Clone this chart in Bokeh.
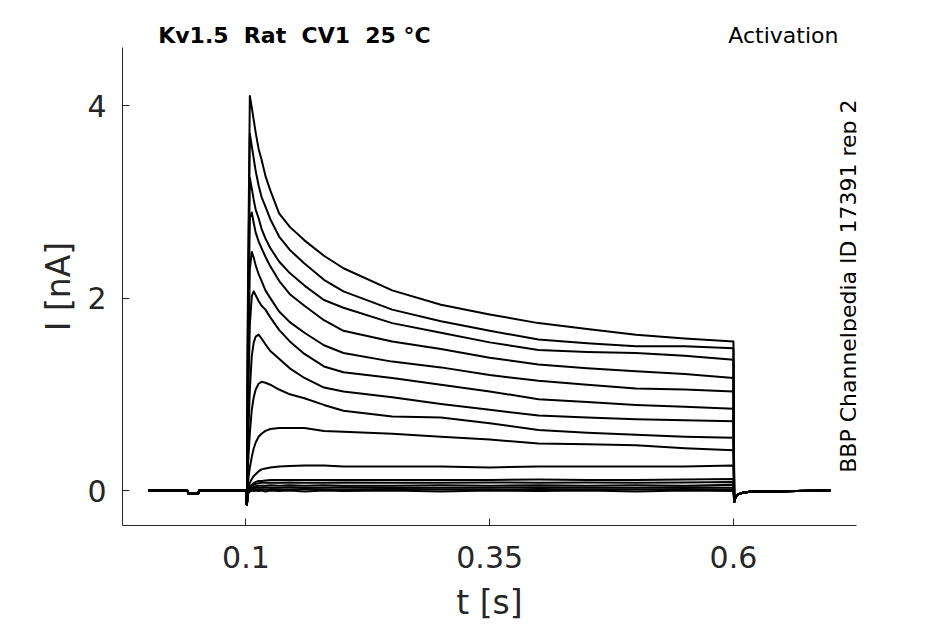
import math
from bokeh.plotting import figure
from bokeh.layouts import column
from bokeh.models import Range1d, FixedTicker, Label, ColumnDataSource
from bokeh.embed import file_html
from bokeh.resources import INLINE

# ---------------- data ----------------
NB2 = "\u00a0\u00a0"
title_text = "Kv1.5" + NB2 + "Rat" + NB2 + "CV1" + NB2 + "25\u00a0\u00b0C"
protocol_text = "Activation"
source_text = "BBP Channelpedia ID 17391 rep 2"

x_ticks = [0.1, 0.35, 0.6]
x_tick_labels = ["0.1", "0.35", "0.6"]
y_ticks = [0, 2, 4]
y_tick_labels = ["0", "2", "4"]

# holding segment before the pulse (s, nA)
pre_t = [0.0, 0.040, 0.041, 0.051, 0.052, 0.0995]
pre_i = [0.0, 0.0, -0.03, -0.03, 0.0, 0.0]

# sample times during the pulse (s)
pulse_t = [0.1, 0.101, 0.102, 0.104, 0.106, 0.108, 0.110, 0.113, 0.116, 0.120,
           0.125, 0.134, 0.145, 0.16, 0.18, 0.2, 0.25, 0.3, 0.35, 0.4, 0.45,
           0.5, 0.55, 0.6]

# current of each sweep at pulse_t (nA)
sweep_01 = [0, -0.15, 2.0, 4.10, 3.98, 3.85, 3.72, 3.55, 3.44, 3.27, 3.12, 2.88, 2.74, 2.60, 2.44, 2.31, 2.08, 1.93, 1.83, 1.74, 1.68, 1.62, 1.58, 1.55]
sweep_02 = [0, -0.15, 1.8, 3.71, 3.58, 3.45, 3.32, 3.17, 3.05, 2.95, 2.82, 2.64, 2.50, 2.36, 2.19, 2.07, 1.88, 1.76, 1.66, 1.57, 1.53, 1.50, 1.50, 1.48]
sweep_03 = [0, -0.15, 1.6, 3.25, 3.14, 3.02, 2.92, 2.83, 2.72, 2.62, 2.52, 2.38, 2.26, 2.13, 1.98, 1.90, 1.74, 1.64, 1.54, 1.46, 1.44, 1.43, 1.40, 1.36]
sweep_04 = [0, -0.15, 1.4, 2.84, 2.89, 2.78, 2.68, 2.59, 2.52, 2.43, 2.33, 2.18, 2.04, 1.92, 1.77, 1.66, 1.55, 1.47, 1.38, 1.31, 1.27, 1.24, 1.21, 1.17]
sweep_05 = [0, -0.15, 1.1, 2.30, 2.48, 2.42, 2.34, 2.25, 2.18, 2.08, 2.00, 1.86, 1.75, 1.64, 1.51, 1.43, 1.34, 1.28, 1.20, 1.14, 1.10, 1.06, 1.05, 1.03]
sweep_06 = [0, -0.15, 0.8, 1.72, 2.02, 2.07, 2.03, 1.97, 1.92, 1.88, 1.80, 1.67, 1.55, 1.42, 1.29, 1.23, 1.17, 1.10, 1.03, 0.95, 0.92, 0.89, 0.87, 0.85]
sweep_07 = [0, -0.15, 0.45, 1.05, 1.40, 1.54, 1.60, 1.62, 1.58, 1.52, 1.45, 1.37, 1.27, 1.17, 1.07, 1.03, 0.97, 0.90, 0.84, 0.78, 0.76, 0.74, 0.73, 0.72]
sweep_08 = [0, -0.15, 0.25, 0.60, 0.84, 0.97, 1.05, 1.11, 1.13, 1.12, 1.10, 1.05, 1.00, 0.96, 0.89, 0.83, 0.77, 0.76, 0.70, 0.63, 0.60, 0.58, 0.56, 0.55]
sweep_09 = [0, -0.15, 0.08, 0.24, 0.35, 0.44, 0.50, 0.56, 0.59, 0.62, 0.64, 0.65, 0.65, 0.65, 0.62, 0.61, 0.59, 0.56, 0.53, 0.49, 0.48, 0.47, 0.44, 0.42]
sweep_10 = [0, -0.15, 0.02, 0.08, 0.12, 0.15, 0.17, 0.20, 0.22, 0.23, 0.24, 0.25, 0.255, 0.26, 0.26, 0.25, 0.25, 0.25, 0.24, 0.25, 0.25, 0.25, 0.25, 0.26]
sweep_11 = [0, -0.15, 0.0, 0.04, 0.06, 0.08, 0.09, 0.10, 0.10, 0.105, 0.11, 0.11, 0.11, 0.11, 0.11, 0.11, 0.11, 0.11, 0.11, 0.115, 0.11, 0.11, 0.115, 0.12]
sweep_12 = [0, -0.15, -0.01, 0.03, 0.05, 0.06, 0.07, 0.075, 0.08, 0.08, 0.08, 0.08, 0.085, 0.08, 0.08, 0.085, 0.08, 0.08, 0.085, 0.08, 0.085, 0.08, 0.085, 0.09]
sweep_13 = [0, -0.15, -0.02, 0.02, 0.03, 0.04, 0.045, 0.05, 0.05, 0.05, 0.055, 0.05, 0.055, 0.05, 0.055, 0.05, 0.05, 0.055, 0.05, 0.055, 0.05, 0.055, 0.05, 0.06]
sweep_14 = [0, -0.15, -0.02, 0.01, 0.02, 0.025, 0.03, 0.03, 0.03, 0.035, 0.03, 0.03, 0.035, 0.03, 0.03, 0.035, 0.03, 0.03, 0.03, 0.035, 0.03, 0.03, 0.035, 0.03]
sweep_15 = [0, -0.15, -0.03, 0.0, 0.01, 0.01, 0.015, 0.01, 0.015, 0.01, 0.015, 0.01, 0.01, 0.015, 0.01, 0.01, 0.015, 0.01, 0.01, 0.015, 0.01, 0.01, 0.015, 0.01]
sweep_16 = [0, -0.15, -0.03, -0.01, 0.0, -0.005, 0.0, -0.005, 0.0, -0.01, 0.0, -0.005, 0.0, -0.01, 0.0, -0.005, 0.0, -0.01, 0.0, -0.005, 0.0, -0.01, 0.0, -0.005]

# tail after the pulse (s, nA)
post_t = [0.6008, 0.602, 0.605, 0.61, 0.62, 0.7]
post_i = [-0.12, -0.07, -0.04, -0.02, -0.01, 0.0]

sweeps = [sweep_01, sweep_02, sweep_03, sweep_04, sweep_05, sweep_06, sweep_07, sweep_08,
          sweep_09, sweep_10, sweep_11, sweep_12, sweep_13, sweep_14, sweep_15, sweep_16]

# ---------------- layout ----------------
INK = "#262626"
FONT = "DejaVu Sans"
W = 940
HEAD_H = 47
MAIN_H = 577

x_range = Range1d(-0.0266, 0.7262)

# header strip holding the two top texts (shares the time axis with the plot)
head = figure(width=W, height=HEAD_H, x_range=x_range, y_range=Range1d(0, HEAD_H),
              output_backend="svg", toolbar_location=None, title=None,
              x_axis_type=None, y_axis_type=None,
              min_border_left=122, min_border_right=W - 122 - 734,
              min_border_top=0, min_border_bottom=0)
head.outline_line_color = None
head.xgrid.visible = False
head.ygrid.visible = False
head.add_layout(Label(x=0.0100, y=12.3, text=title_text, text_font=FONT,
                      text_font_size="22px", text_font_style="bold", text_color="black",
                      text_baseline="middle", text_align="left"))
head.add_layout(Label(x=0.7077, y=12.3, text=protocol_text, text_font=FONT,
                      text_font_size="22px", text_color="black",
                      text_baseline="middle", text_align="right"))

p = figure(width=W, height=MAIN_H,
           x_range=x_range, y_range=Range1d(-0.363, 4.604),
           output_backend="svg", toolbar_location=None, title=None,
           min_border_left=122, min_border_right=W - 122 - 734,
           min_border_top=0, min_border_bottom=MAIN_H - 479)
p.outline_line_color = None
p.xgrid.visible = False
p.ygrid.visible = False

xs = [pre_t + pulse_t + post_t for s in sweeps]
ys = [pre_i + s + post_i for s in sweeps]
src = ColumnDataSource(dict(xs=xs, ys=ys))
p.multi_line(xs="xs", ys="ys", source=src, line_color="black", line_width=2.0,
             line_join="round")

for ax in (p.xaxis[0], p.yaxis[0]):
    ax.axis_line_color = INK
    ax.axis_line_width = 1
    ax.major_tick_line_color = INK
    ax.major_tick_in = 7
    ax.major_tick_out = 0
    ax.minor_tick_line_color = None
    ax.major_label_text_font = FONT
    ax.major_label_text_font_size = "30px"
    ax.major_label_text_color = INK
    ax.axis_label_text_font = FONT
    ax.axis_label_text_font_size = "33px"
    ax.axis_label_text_font_style = "normal"
    ax.axis_label_text_color = INK

p.xaxis.ticker = FixedTicker(ticks=x_ticks)
p.xaxis.major_label_overrides = {t: l for t, l in zip(x_ticks, x_tick_labels)}
p.yaxis.ticker = FixedTicker(ticks=y_ticks)
p.yaxis.major_label_overrides = {t: l for t, l in zip(y_ticks, y_tick_labels)}
p.xaxis.axis_label = "t [s]"
p.yaxis.axis_label = "I [nA]"
p.xaxis.major_label_standoff = 20
p.xaxis.axis_label_standoff = 12
p.yaxis.major_label_standoff = 16
p.yaxis.axis_label_standoff = 6

p.add_layout(Label(x=0.7185, y=2.124, text=source_text, text_font=FONT,
                   text_font_size="22px", text_color="black", angle=math.pi / 2,
                   text_baseline="middle", text_align="center"))

layout = column(head, p, spacing=0)
open("out.html", "w").write(file_html(layout, INLINE))
